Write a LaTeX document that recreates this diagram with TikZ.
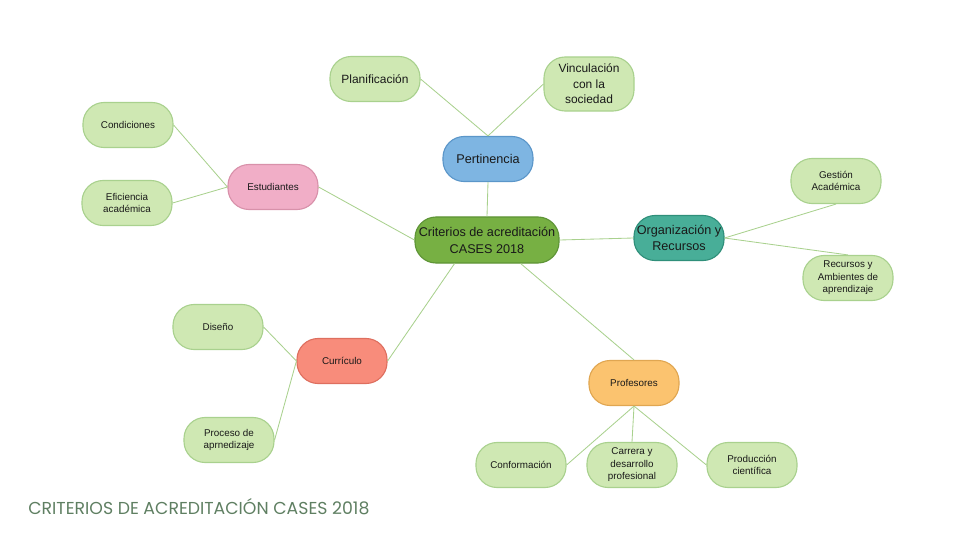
\documentclass[tikz,border=0pt]{standalone}
\usepackage{fontspec}
\setmainfont{Liberation Sans}
\newfontfamily\titlefont{Poppins}
\usetikzlibrary{calc, positioning}

\definecolor{leafgreen}{HTML}{CFE8B3}
\definecolor{leafline}{HTML}{A9D18E}
\definecolor{rootgreen}{HTML}{77B043}
\definecolor{rootline}{HTML}{5E9436}
\definecolor{pertblue}{HTML}{7EB5E2}
\definecolor{pertline}{HTML}{5B96C9}
\definecolor{estupink}{HTML}{F1AEC7}
\definecolor{estuline}{HTML}{D891AA}
\definecolor{orgateal}{HTML}{48AE98}
\definecolor{orgaline}{HTML}{2F8F7A}
\definecolor{currred}{HTML}{F88C7B}
\definecolor{currline}{HTML}{DE6F5F}
\definecolor{proforange}{HTML}{FBC36F}
\definecolor{profline}{HTML}{E0A651}
\definecolor{titlegrey}{HTML}{5F7F62}

\begin{document}
\begin{tikzpicture}[x=0.025cm, y=-0.025cm,
    box/.style={draw, line width=0.8pt, rounded corners=15pt, align=center, text=black!90, minimum width=2.25cm, minimum height=1.125cm, inner sep=2pt},
    leaf/.style={box, fill=leafgreen, draw=leafline, font=\fontsize{7}{8.9}\selectfont},
    bigleaf/.style={leaf, font=\fontsize{8.5}{11}\selectfont},
    hub/.style={box, font=\fontsize{7}{8.9}\selectfont},
    bighub/.style={box, font=\fontsize{9}{11.5}\selectfont},
    link/.style={draw=leafline, line width=0.6pt}]
    \useasboundingbox (0,0) rectangle (960,540);

    % centre
    \node[box, fill=rootgreen, draw=rootline, minimum width=3.6cm, minimum height=1.15cm, font=\fontsize{9}{12}\selectfont] (root) at (487,240) {Criterios de acreditación\\CASES 2018};

    % main branches
    \node[bighub, fill=pertblue, draw=pertline] (pert) at (488,159) {Pertinencia};
    \node[hub, fill=estupink, draw=estuline] (estu) at (273,187) {Estudiantes};
    \node[bighub, fill=orgateal, draw=orgaline] (orga) at (679,238) {Organización y\\Recursos};
    \node[hub, fill=currred, draw=currline] (curr) at (342,361) {Currículo};
    \node[hub, fill=proforange, draw=profline] (prof) at (634,383) {Profesores};

    % leaves
    \node[bigleaf] (plan) at (375,79) {Planificación};
    \node[bigleaf, minimum height=1.35cm] (vinc) at (589,84) {Vinculación\\con la\\sociedad};
    \node[leaf] (cond) at (128,125) {Condiciones};
    \node[leaf] (efic) at (127,203) {Eficiencia\\académica};
    \node[leaf] (gest) at (836,181) {Gestión\\Académica};
    \node[leaf] (recu) at (848,278) {Recursos y\\Ambientes de\\aprendizaje};
    \node[leaf] (dise) at (218,327) {Diseño};
    \node[leaf] (proc) at (229,440) {Proceso de\\aprnedizaje};
    \node[leaf] (conf) at (521,465) {Conformación};
    \node[leaf] (carr) at (632,465) {Carrera y\\desarrollo\\profesional};
    \node[leaf] (prod) at (752,465) {Producción\\científica};

    \draw[link] (root.north) -- (pert.south);
    \draw[link] (root.west) -- (estu.east);
    \draw[link] (root.east) -- (orga.west);
    \draw[link] (root.216) -- (curr.east);
    \draw[link] (root.325) -- (prof.north);

    \draw[link] (pert.north) -- (plan.east);
    \draw[link] (pert.north) -- (vinc.west);
    \draw[link] (estu.west) -- (cond.east);
    \draw[link] (estu.west) -- (efic.east);
    \draw[link] (orga.east) -- (gest.south);
    \draw[link] (orga.east) -- (recu.north);
    \draw[link] (curr.west) -- (dise.east);
    \draw[link] (curr.west) -- (proc.east);
    \draw[link] (prof.south) -- (conf.east);
    \draw[link] (prof.south) -- (carr.north);
    \draw[link] (prof.south) -- (prod.west);

    \node[anchor=base west, inner sep=0pt, text=titlegrey, font=\titlefont\fontsize{12.3}{15}\selectfont] (title) at (28,514) {CRITERIOS DE ACREDITACIÓN CASES 2018};
\end{tikzpicture}
\end{document}
